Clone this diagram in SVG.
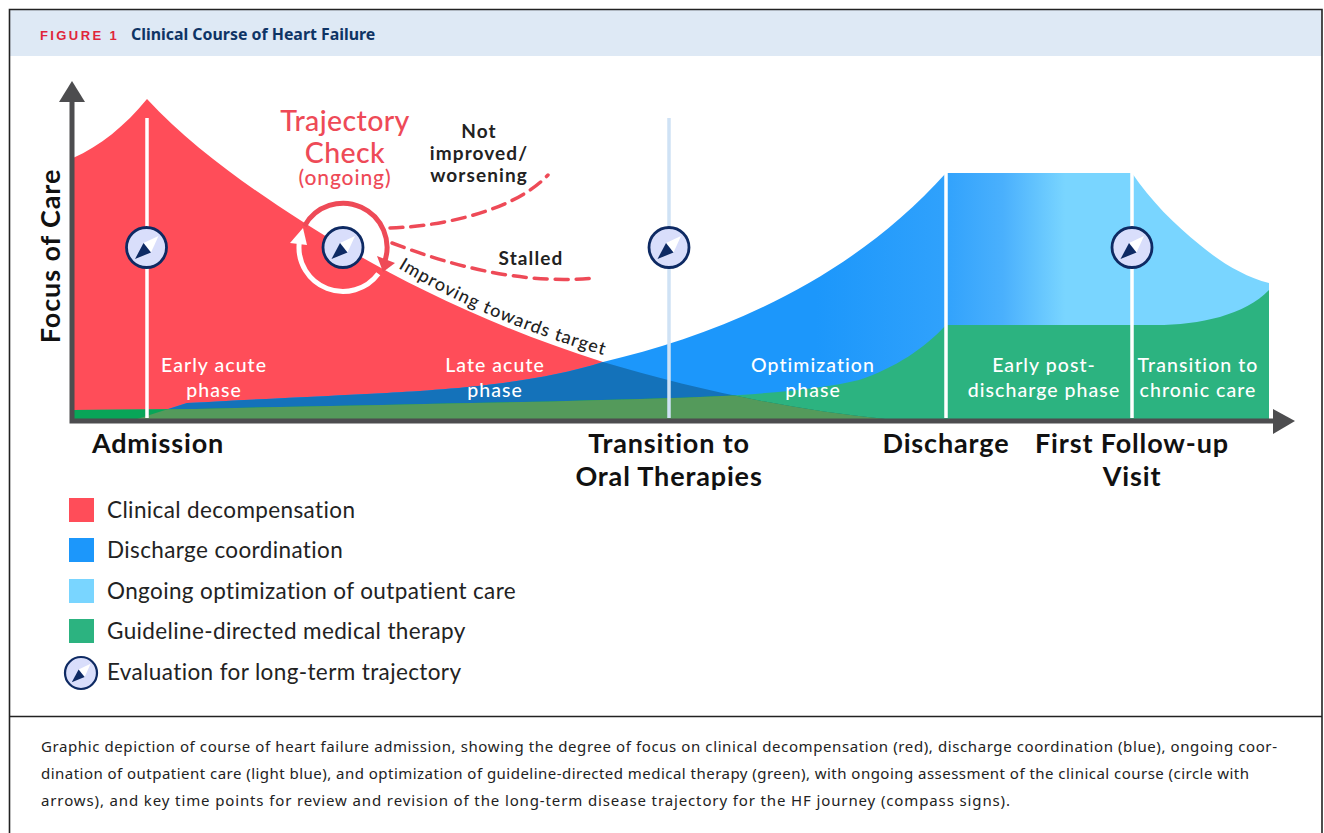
<svg xmlns="http://www.w3.org/2000/svg" width="1324" height="833" viewBox="0 0 1324 833">
<style>
text{font-family:"Lato","Noto Sans",sans-serif}
.ax{font-size:27px;font-weight:700;fill:#111;text-anchor:middle;letter-spacing:.85px}
.ph{font-size:19.5px;font-weight:500;fill:#fff;text-anchor:middle;letter-spacing:1.05px}
.tr{fill:#EE4A57;text-anchor:middle;font-weight:500}
.st{font-size:19px;font-weight:700;fill:#222;text-anchor:middle;letter-spacing:1.1px}
.lg{font-size:22.5px;fill:#222;letter-spacing:.38px}
.cp{font-family:"Noto Sans",sans-serif;font-size:15px;fill:#222}
.dash{fill:none;stroke:#EE4A57;stroke-width:3.5;stroke-dasharray:13 8;stroke-linecap:round}
</style>
<defs>
<linearGradient id="bg" gradientUnits="userSpaceOnUse" x1="137" y1="0" x2="1269" y2="0">
<stop offset="0" stop-color="#1C97FB"/><stop offset="0.6" stop-color="#1C97FB"/><stop offset="0.71" stop-color="#2FA1FC"/><stop offset="0.765" stop-color="#4AB0FD"/><stop offset="0.82" stop-color="#79D5FF"/><stop offset="1" stop-color="#79D5FF"/>
</linearGradient>
<path id="redShape" d="M73,158C100,146 125,126 147,99C190,146 250,188 300,220C370,265 470,320 603,362C690,388 790,410 885,419L73,419Z"/>
<path id="blueShape" d="M137,419L187,403C260,399 330,396 387,393C440,390 530,385 603,362C720,335 850,280 946,173L1132,173C1150,200 1175,225 1200,245C1220,262 1245,277 1269,283L1269,419Z"/>
<path id="greenShape" d="M73,410L195,409C350,405 520,403 672,398C730,396 810,392 859,380C895,368 925,348 946,325L1156,325C1200,325 1245,315 1269,290L1269,419L73,419Z"/>
<clipPath id="cr"><use href="#redShape"/></clipPath>
<clipPath id="cb"><use href="#blueShape"/></clipPath>
<path id="impPath" d="M398,268C460,305 530,335 614,358"/>
<g id="compass">
<circle r="20" fill="#D9DEFB" stroke="#0E2A63" stroke-width="2.8"/>
<path d="M12,-11.500L-3,-4.500L4.500,5Z" fill="#fff"/>
<path d="M-11.500,11.500L-3,-4.500L4.500,5Z" fill="#0E2A63"/>
</g>
</defs>
<rect width="1324" height="833" fill="#fff"/>
<g id="frame">
<rect x="9.500" y="9.500" width="1312.500" height="46.500" fill="#DEE9F5"/>
<path d="M9.500,833V9.500H1322V833M9,716.500H1322" fill="none" stroke="#222" stroke-width="1.6"/>
<text x="40" y="39.500" font-size="13" font-weight="700" fill="#E0263A" letter-spacing="2.400" style="font-family:'Liberation Sans',sans-serif">FIGURE 1</text>
<text x="131" y="39.500" font-size="15.900" font-weight="700" fill="#0E3465" style="font-family:'Noto Sans',sans-serif">Clinical Course of Heart Failure</text>
</g>
<g id="chart">
<use href="#redShape" fill="#FF4D59"/>
<use href="#blueShape" fill="url(#bg)"/>
<use href="#greenShape" fill="#2CB380"/>
<g clip-path="url(#cr)">
<use href="#blueShape" fill="#1472BA"/>
<use href="#greenShape" fill="#08A558"/>
<g clip-path="url(#cb)"><use href="#greenShape" fill="#549A5B"/></g>
</g>
</g>
<g id="connectors">
<path d="M147,118V418" stroke="#fff" stroke-width="3.500" fill="none"/>
<path d="M669,118V418" stroke="#CFE2F5" stroke-width="3.500" fill="none"/>
<path d="M946,173V418" stroke="#fff" stroke-width="3.500" fill="none"/>
<path d="M1132,173V418" stroke="#fff" stroke-width="3.500" fill="none"/>
<path d="M72,100V421H1275" stroke="#4D4D4F" stroke-width="5" fill="none"/>
<path d="M72,81L59,102H85Z" fill="#4D4D4F"/>
<path d="M1273,409L1295,421L1273,434Z" fill="#4D4D4F"/>
<path class="dash" d="M390,228C430,227 510,215 548,175"/>
<path class="dash" d="M392,243C450,265 520,285 595,278"/>
<path d="M304.500,226A44,44 0 0 1 384.300,262.500" fill="none" stroke="#EE4A57" stroke-width="5"/>
<path d="M377,256L395,263L383,272Z" fill="#EE4A57"/>
<path d="M378.300,273.700A44,44 0 0 1 299.200,243.100" fill="none" stroke="#fff" stroke-width="5"/>
<path d="M290,243L307,245L303,228Z" fill="#fff"/>
</g>
<g id="labels">
<text class="ax" transform="translate(60,256) rotate(-90)" style="letter-spacing:.9px">Focus of Care</text>
<text class="tr" x="345" y="131" font-size="28.500" letter-spacing=".4">Trajectory</text>
<text class="tr" x="345" y="163" font-size="28.500" letter-spacing=".4">Check</text>
<text class="tr" x="345" y="185" font-size="21" letter-spacing=".9">(ongoing)</text>
<text class="st" x="479" y="138">Not</text>
<text class="st" x="479" y="160">improved/</text>
<text class="st" x="479" y="182">worsening</text>
<text class="st" x="531" y="265">Stalled</text>
<text font-size="18" font-weight="500" fill="#222" letter-spacing="1.050"><textPath href="#impPath">Improving towards target</textPath></text>
<text class="ph" x="214" y="372">Early acute</text><text class="ph" x="214" y="397">phase</text>
<text class="ph" x="495" y="372">Late acute</text><text class="ph" x="495" y="397">phase</text>
<text class="ph" x="813" y="372">Optimization</text><text class="ph" x="813" y="397">phase</text>
<text class="ph" x="1044" y="372">Early post-</text><text class="ph" x="1044" y="397">discharge phase</text>
<text class="ph" x="1198" y="372">Transition to</text><text class="ph" x="1198" y="397">chronic care</text>
<text class="ax" x="158" y="453">Admission</text>
<text class="ax" x="669" y="453">Transition to</text><text class="ax" x="669" y="486">Oral Therapies</text>
<text class="ax" x="946" y="453">Discharge</text>
<text class="ax" x="1132" y="453">First Follow-up</text><text class="ax" x="1132" y="486">Visit</text>
</g>
<g id="compass-admission"><use href="#compass" x="146.500" y="247.500"/></g>
<g id="compass-check"><use href="#compass" x="343" y="247.500"/></g>
<g id="compass-oral"><use href="#compass" x="669" y="247.500"/></g>
<g id="compass-followup"><use href="#compass" x="1132" y="247.500"/></g>
<g id="legend">
<rect x="69" y="498" width="25" height="24" fill="#FF4D59"/><text class="lg" x="107" y="518">Clinical decompensation</text>
<rect x="69" y="538" width="25" height="24" fill="#1C97FB"/><text class="lg" x="107" y="558">Discharge coordination</text>
<rect x="69" y="579" width="25" height="24" fill="#79D5FF"/><text class="lg" x="107" y="599">Ongoing optimization of outpatient care</text>
<rect x="69" y="619" width="25" height="24" fill="#2CB380"/><text class="lg" x="107" y="639">Guideline-directed medical therapy</text>
<use href="#compass" transform="translate(81,673) scale(.8)"/><text class="lg" x="107" y="680">Evaluation for long-term trajectory</text>
</g>
<g id="caption">
<text class="cp" x="41" y="752" textLength="1236">Graphic depiction of course of heart failure admission, showing the degree of focus on clinical decompensation (red), discharge coordination (blue), ongoing coor-</text>
<text class="cp" x="41" y="779" textLength="1208">dination of outpatient care (light blue), and optimization of guideline-directed medical therapy (green), with ongoing assessment of the clinical course (circle with</text>
<text class="cp" x="41" y="806" textLength="969">arrows), and key time points for review and revision of the long-term disease trajectory for the HF journey (compass signs).</text>
</g>
</svg>
